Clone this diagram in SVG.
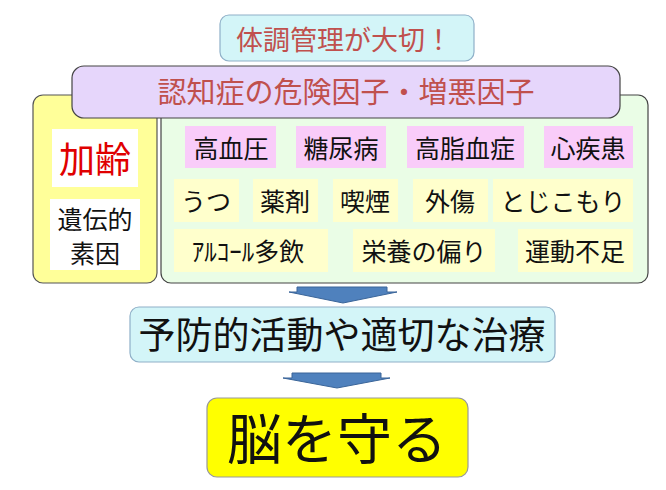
<svg xmlns="http://www.w3.org/2000/svg" width="666" height="490" viewBox="0 0 666 490">
<style>
text{font-family:"Noto Sans CJK JP","Noto Sans",sans-serif;text-anchor:middle;dominant-baseline:central}
.red{fill:#c0504d}
.pk{fill:#f9ccf9}
.ly{fill:#ffffcc}
.it{font-size:25px;fill:#111}
.arr{fill:#4f81bd;stroke:#3a6599;stroke-width:1}
</style>
<rect width="666" height="490" fill="#fff"/>
<g id="top">
<rect x="220" y="15" width="254" height="46" rx="9" fill="#d3f5f8" stroke="#8fb0c8" stroke-width="1.2"/>
<text x="344" y="38" font-size="27" class="red">体調管理が大切！</text>
</g>
<g id="left">
<rect x="33" y="95" width="124" height="188" rx="10" fill="#ffff99" stroke="#555" stroke-width="1.2"/>
<rect x="52" y="129" width="86" height="58" fill="#fff"/>
<text x="95" y="157" font-size="36" fill="#e00000">加齢</text>
<rect x="50" y="199" width="90" height="71" fill="#fff"/>
<text x="95" y="218" font-size="25" fill="#111">遺伝的</text>
<text x="95" y="252" font-size="25" fill="#111">素因</text>
</g>
<g id="right">
<rect x="161" y="95" width="487" height="188" rx="10" fill="#eafde6" stroke="#444" stroke-width="1.2"/>
<rect class="pk" x="185" y="126" width="91" height="42"/><text class="it" x="231" y="147">高血圧</text>
<rect class="pk" x="296" y="126" width="90" height="42"/><text class="it" x="341" y="147">糖尿病</text>
<rect class="pk" x="407" y="126" width="117" height="42"/><text class="it" x="465" y="147">高脂血症</text>
<rect class="pk" x="544" y="126" width="89" height="42"/><text class="it" x="588" y="147">心疾患</text>
<rect class="ly" x="174" y="179" width="65" height="43"/><text class="it" x="206" y="200">うつ</text>
<rect class="ly" x="253" y="179" width="65" height="43"/><text class="it" x="285" y="200">薬剤</text>
<rect class="ly" x="333" y="179" width="65" height="43"/><text class="it" x="365" y="200">喫煙</text>
<rect class="ly" x="413" y="179" width="75" height="43"/><text class="it" x="450" y="200">外傷</text>
<rect class="ly" x="493" y="179" width="140" height="43"/><text class="it" x="563" y="200">とじこもり</text>
<rect class="ly" x="174" y="229" width="154" height="43"/><text class="it" x="248" y="250">ｱﾙｺｰﾙ多飲</text>
<rect class="ly" x="353" y="229" width="142" height="43"/><text class="it" x="424" y="250">栄養の偏り</text>
<rect class="ly" x="518" y="229" width="115" height="43"/><text class="it" x="575" y="250">運動不足</text>
</g>
<g id="risk">
<rect x="72" y="66" width="548" height="52" rx="12" fill="#e6d6fb" stroke="#444" stroke-width="1.2"/>
<text x="346" y="90" font-size="29" class="red">認知症の危険因子・増悪因子</text>
</g>
<g id="prevent">
<rect x="130" y="307" width="425" height="55" rx="9" fill="#d3f5f8" stroke="#8fb0c8" stroke-width="1.2"/>
<text x="342" y="333" font-size="37" fill="#111">予防的活動や適切な治療</text>
</g>
<g id="brain">
<rect x="207" y="398" width="261" height="79" rx="10" fill="#ffff00" stroke="#999" stroke-width="1.2"/>
<text x="337" y="435" font-size="55" fill="#111">脳を守る</text>
</g>
<g id="connectors">
<path class="arr" d="M297,287 H387 V292 H397 L343,303 L289,292 H297 Z"/>
<path class="arr" d="M292,373 H381 V378 H390 L337,388 L283,378 H292 Z"/>
</g>
</svg>
